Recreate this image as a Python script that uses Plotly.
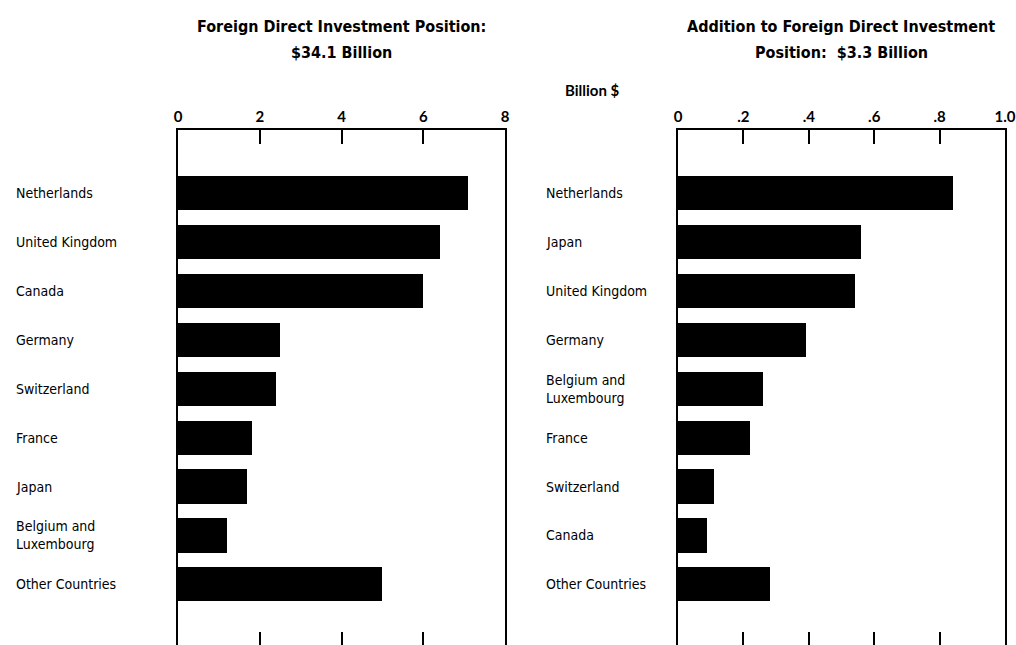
import plotly.graph_objects as go

# ── Data ──────────────────────────────────────────────────────────────────────
left_countries = ["Netherlands", "United Kingdom", "Canada", "Germany", "Switzerland",
                  "France", "Japan", "Belgium and<br>Luxembourg", "Other Countries"]
left_values = [7.1, 6.4, 6.0, 2.5, 2.4, 1.8, 1.7, 1.2, 5.0]
left_ticks = [0, 2, 4, 6, 8]
left_ticktext = ["0", "2", "4", "6", "8"]

right_countries = ["Netherlands", "Japan", "United Kingdom", "Germany",
                   "Belgium and<br>Luxembourg", "France", "Switzerland", "Canada",
                   "Other Countries"]
right_values = [0.84, 0.56, 0.54, 0.39, 0.26, 0.22, 0.11, 0.09, 0.28]
right_ticks = [0, 0.2, 0.4, 0.6, 0.8, 1.0]
right_ticktext = ["0", ".2", ".4", ".6", ".8", "1.0"]

left_title = ["Foreign Direct Investment Position:", "$34.1 Billion"]
right_title = ["Addition to Foreign Direct Investment", "Position:  $3.3 Billion"]
unit_label = "Billion $"

# ── Styling ───────────────────────────────────────────────────────────────────
W, H = 1016, 645
NARROW = "Liberation Sans Narrow, DejaVu Sans Condensed, Arial Narrow, sans-serif"
ROUND = "Lato, Open Sans, sans-serif"
TOP = 1 - 130 / H
YRANGE = [9.24, -1.29]

fig = go.Figure()
fig.add_trace(go.Bar(x=left_values, y=list(range(len(left_values))), orientation="h",
                     marker=dict(color="black", line=dict(width=0)), width=0.7,
                     xaxis="x", yaxis="y", showlegend=False))
fig.add_trace(go.Bar(x=right_values, y=list(range(len(right_values))), orientation="h",
                     marker=dict(color="black", line=dict(width=0)), width=0.7,
                     xaxis="x2", yaxis="y2", showlegend=False))
# invisible traces so the bottom tick axes get drawn
fig.add_trace(go.Scatter(x=[0], y=[0], xaxis="x3", yaxis="y", mode="markers",
                         marker=dict(opacity=0), showlegend=False, hoverinfo="skip"))
fig.add_trace(go.Scatter(x=[0], y=[0], xaxis="x4", yaxis="y2", mode="markers",
                         marker=dict(opacity=0), showlegend=False, hoverinfo="skip"))


def top_axis(domain, rng, tv, tt, anchor):
    return dict(domain=domain, range=rng, side="top", anchor=anchor,
                tickvals=tv, ticktext=tt, ticks="inside", ticklen=14, tickwidth=2,
                tickcolor="black", showline=True, linewidth=2, linecolor="black",
                showgrid=False, zeroline=False, automargin=False, fixedrange=True,
                tickfont=dict(family=ROUND, size=15, color="black", weight="bold"))


def bottom_axis(over, rng, tv, anchor):
    return dict(overlaying=over, range=rng, side="bottom", anchor=anchor,
                tickvals=tv, ticks="inside", ticklen=13, tickwidth=2, tickcolor="black",
                showticklabels=False, showline=False, showgrid=False, zeroline=False,
                automargin=False)


def side_axis(anchor):
    return dict(domain=[0, TOP], range=YRANGE, anchor=anchor, showline=True, mirror=True,
                linewidth=2, linecolor="black", showticklabels=False, ticks="",
                showgrid=False, zeroline=False, automargin=False)


fig.update_layout(
    width=W, height=H,
    margin=dict(l=0, r=0, t=0, b=0),
    paper_bgcolor="white", plot_bgcolor="white",
    template="none",
    bargap=0,
    xaxis=top_axis([178 / W, 505 / W], [0, 8], left_ticks, left_ticktext, "y"),
    xaxis2=top_axis([678 / W, 1005 / W], [0, 1.0], right_ticks, right_ticktext, "y2"),
    xaxis3=bottom_axis("x", [0, 8], left_ticks[1:-1], "y"),
    xaxis4=bottom_axis("x2", [0, 1.0], right_ticks[1:-1], "y2"),
    yaxis=side_axis("x"),
    yaxis2=side_axis("x2"),
)

annotations = []
for i, name in enumerate(left_countries):
    annotations.append(dict(text=name, xref="paper", x=14 / W, yref="y", y=i,
                            xanchor="left", yanchor="middle", align="left", showarrow=False,
                            font=dict(family=NARROW, size=14, color="black")))
for i, name in enumerate(right_countries):
    annotations.append(dict(text=name, xref="paper", x=544 / W, yref="y2", y=i,
                            xanchor="left", yanchor="middle", align="left", showarrow=False,
                            font=dict(family=NARROW, size=14, color="black")))

# titles, one annotation per line to control the line spacing
for cx, lines in [(341, left_title), (841, right_title)]:
    for k, line in enumerate(lines):
        annotations.append(dict(text=line, xref="paper", x=cx / W, yref="paper",
                                y=1 - (27 + 25 * k) / H, xanchor="center", yanchor="middle",
                                showarrow=False,
                                font=dict(family=NARROW, size=16, color="black", weight="bold")))
annotations.append(dict(text=unit_label, xref="paper", x=592 / W, yref="paper", y=1 - 90 / H,
                        xanchor="center", yanchor="middle", showarrow=False,
                        font=dict(family=ROUND, size=15, color="black", weight="bold")))
fig.update_layout(annotations=annotations)

# drop the default 8px page margin so the figure sits at the window's corner
fig.write_html("out.html", config={"displayModeBar": False},
               post_script="document.body.style.margin='0';")
